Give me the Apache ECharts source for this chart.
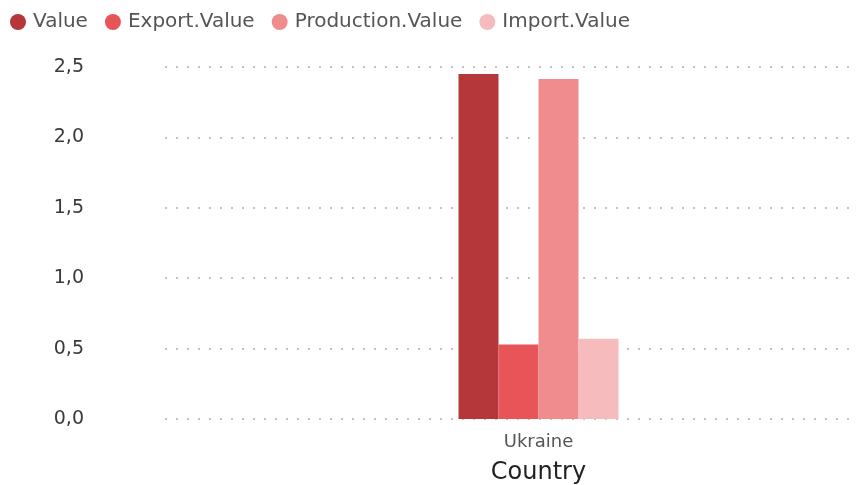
<!DOCTYPE html>
<html>
<head>
<meta charset="utf-8">
<script src="https://cdn.jsdelivr.net/npm/echarts@6/dist/echarts.min.js"></script>
<style>html,body{margin:0;padding:0;background:#fff}#c{width:857px;height:485px}</style>
</head>
<body>
<div id="c"></div>
<script>
var categories = ['Ukraine'];
var seriesNames = ['Value', 'Export.Value', 'Production.Value', 'Import.Value'];
var valueData = [2.45];
var exportData = [0.53];
var productionData = [2.415];
var importData = [0.57];
var yTicks = [0, 0.5, 1.0, 1.5, 2.0, 2.5];

var colors = ['#b5373a', '#e85558', '#f08b8e', '#f6bcbd'];
var font = 'DejaVu Sans';
var chart = echarts.init(document.getElementById('c'));
var allData = [valueData, exportData, productionData, importData];
chart.setOption({
  animation: false,
  color: colors,
  legend: {
    left: 10, top: 12, padding: 0, itemGap: 17, itemWidth: 16, itemHeight: 16, icon: 'circle',
    textStyle: { fontFamily: font, fontSize: 20, color: '#555', padding: [0, 0, 0, 2] },
    data: seriesNames
  },
  grid: { left: 165, top: 67, width: 747, height: 352, containLabel: false, outerBoundsMode: 'none' },
  xAxis: {
    type: 'category', data: categories,
    axisLine: { show: false }, axisTick: { show: false },
    axisLabel: { fontFamily: font, fontSize: 18, color: '#555', margin: 14 },
    name: 'Country', nameLocation: 'middle', nameGap: 42,
    nameTextStyle: { fontFamily: font, fontSize: 24, color: '#222' }
  },
  yAxis: {
    type: 'value', min: 0, max: yTicks[yTicks.length - 1], interval: 0.5,
    axisLine: { show: false }, axisTick: { show: false },
    axisLabel: { fontFamily: font, fontSize: 19, color: '#3a3a3a', margin: 81,
      formatter: function (v) { return v.toFixed(1).replace('.', ','); } },
    splitLine: { lineStyle: { type: [2, 9], color: '#b0b0b0', width: 1.5 } }
  },
  series: seriesNames.map(function (n, i) {
    return { name: n, type: 'bar', data: allData[i], barWidth: 40, barGap: '0%' };
  })
});
</script>
</body>
</html>
